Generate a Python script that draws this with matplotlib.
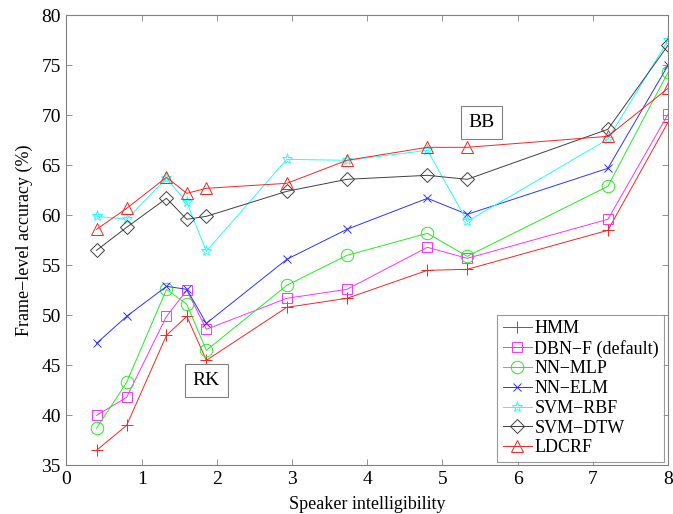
import matplotlib
matplotlib.use("Agg")
import matplotlib.pyplot as plt

plt.rcParams['font.family'] = ['Liberation Serif', 'DejaVu Serif']

x = [0.4, 0.8, 1.33, 1.6, 1.86, 2.93, 3.73, 4.8, 5.33, 7.2, 8.0]

hmm    = [36.5, 39.0, 48.0, 49.9, 45.5, 50.8, 51.7, 54.5, 54.6, 58.5, 69.3]
dbn    = [40.0, 41.8, 49.9, 52.5, 48.6, 51.7, 52.6, 56.8, 55.7, 59.6, 70.1]
mlp    = [38.7, 43.3, 52.6, 51.1, 46.5, 53.0, 56.0, 58.2, 55.9, 62.9, 74.3]
elm    = [47.2, 49.9, 52.9, 52.6, 49.2, 55.6, 58.6, 61.7, 60.1, 64.7, 75.0]
rbf    = [59.9, 59.6, 63.7, 61.3, 56.4, 65.6, 65.5, 66.5, 59.4, 67.6, 77.5]
dtw    = [56.5, 58.8, 61.7, 59.6, 59.9, 62.4, 63.6, 64.0, 63.6, 68.6, 77.0]
ldcrf  = [58.6, 60.7, 63.8, 62.2, 62.7, 63.2, 65.5, 66.8, 66.8, 67.9, 72.7]

names = ["HMM", "DBN\u2212F (default)", "NN\u2212MLP", "NN\u2212ELM",
         "SVM\u2212RBF", "SVM\u2212DTW", "LDCRF"]
series = [hmm, dbn, mlp, elm, rbf, dtw, ldcrf]
colors = ["#ff2020", "#ff30ff", "#20ee20", "#3030ff", "#20ffff", "#404040", "#ff2020"]
markers = ["+", "s", "o", "x", "*", "D", "^"]
msizes = [8, 7, 9, 6, 8, 7, 9]

fig = plt.figure(figsize=(6.73, 5.14), dpi=100)
ax = fig.add_axes([0.0988, 0.0947, 0.8938, 0.8755])

for ys, nm, c, m, ms in zip(series, names, colors, markers, msizes):
    ax.plot(x, ys, color=c, marker=m, markersize=ms, markerfacecolor='none',
            markeredgecolor=c, markeredgewidth=0.7, linewidth=0.7, label=nm)

ax.set_xlim(0, 8)
ax.set_ylim(35, 80)
ax.set_xticks(range(0, 9))
ax.set_yticks(range(35, 81, 5))
ax.tick_params(direction='in', length=4, width=0.6, color='#808080',
               labelsize=14, top=True, right=True, pad=4)
for s in ax.spines.values():
    s.set_color('#808080')
    s.set_linewidth(0.8)

ax.set_xlabel("Speaker intelligibility", fontsize=13, labelpad=6)
ax.set_ylabel("Frame\u2212level accuracy (%)", fontsize=13, labelpad=6)

bbox = dict(boxstyle='square,pad=0.4', facecolor='white', edgecolor='#808080', linewidth=0.8)
ax.text(1.86, 43.5, "RK", fontsize=14, ha='center', va='center', bbox=bbox)
ax.text(5.52, 69.3, "BB", fontsize=14, ha='center', va='center', bbox=bbox)

leg = ax.legend(loc='lower right', fontsize=13, frameon=True, fancybox=False,
                edgecolor='#808080', handlelength=1.6, handletextpad=0.15,
                labelspacing=0.15, borderpad=0.3, borderaxespad=0.2)
leg.get_frame().set_linewidth(0.8)

fig.savefig("out.png", dpi=100)
